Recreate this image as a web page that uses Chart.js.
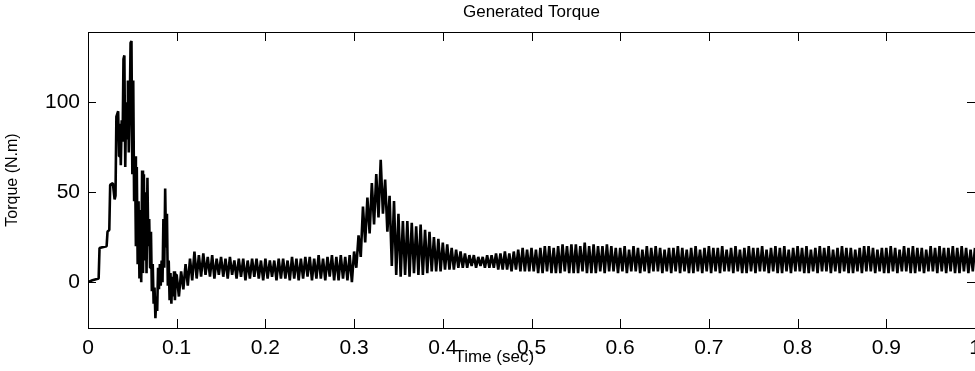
<!DOCTYPE html>
<html>
<head>
<meta charset="utf-8">
<script src="https://cdn.jsdelivr.net/npm/chart.js@4.4.0/dist/chart.umd.min.js"></script>
<style>
  html, body { margin: 0; padding: 0; overflow: hidden; background: #fff; }
  #wrap { width: 990px; height: 371px; position: relative; }
</style>
</head>
<body>
<div id="wrap"><canvas id="torqueChart"></canvas></div>
<script>
'use strict';

// start-up transient (time in s, torque)
let transientTime = [
  0, 0.005, 0.012, 0.013, 0.021, 0.022, 0.024, 0.025, 0.028, 0.030,
  0.031, 0.032, 0.034, 0.035, 0.036, 0.037, 0.038, 0.039, 0.040, 0.041,
  0.042, 0.043, 0.044, 0.045, 0.046, 0.047, 0.048, 0.049, 0.050, 0.051,
  0.052, 0.053, 0.054, 0.055, 0.056, 0.057, 0.058, 0.059, 0.060, 0.061,
  0.062, 0.063, 0.064, 0.065, 0.066, 0.067, 0.068, 0.069, 0.070, 0.071,
  0.072, 0.073, 0.074, 0.075, 0.076, 0.077, 0.078, 0.079, 0.080, 0.081,
  0.082, 0.083, 0.084, 0.085, 0.086, 0.087, 0.088, 0.089, 0.090, 0.091,
  0.092, 0.093, 0.094, 0.095, 0.096, 0.097, 0.098, 0.099
];
let transientTorque = [
  0, 1, 2, 19, 20, 28, 29, 54, 55, 46,
  48, 92, 95, 70, 88, 65, 90, 78, 124, 126,
  64, 100, 80, 112, 72, 95, 133, 134, 60, 112,
  45, 70, 20, 64, 10, 45, 2, 40, 0, 62,
  5, 60, 12, 50, 5, 58, 20, 35, 8, 28,
  -5, 10, -12, -3, -20, -8, -16, 8, -4, 10,
  -2, 12, 0, 35, 8, 52, 20, 38, -2, 12,
  -10, 5, -12, 3, -8, 6, -10, 4
];

// ripple after 0.1 s, sampled every 2.5 ms (peak, trough, peak, trough ...)
let bandStart = 0.1;
let bandStep = 0.0025;
let bandTorque = [
  4, -8, 6, -4, 10, -2, 13, 1,
  17, 2, 15, 3, 16, 4, 14, 3,
  15, 2, 13, 4, 14, 3, 13, 2,
  14, 4, 12, 2, 13, 3, 13, 1,
  12, 2, 13, 3, 13, 2, 12, 1,
  13, 2, 12, 3, 12, 1, 13, 2,
  13, 2, 12, 1, 14, 2, 13, 1,
  13, 2, 14, 3, 14, 1, 13, 2,
  15, 2, 13, 1, 14, 3, 15, 1,
  14, 1, 15, 2, 14, 1, 15, 0,
  17, 8, 26, 14, 42, 22, 47, 27,
  55, 32, 60, 36, 68, 38, 57, 28,
  48, 9, 45, 4, 38, 3, 34, 4,
  34, 3, 33, 5, 31, 4, 32, 4,
  29, 5, 28, 6, 25, 6, 24, 6,
  22, 7, 21, 7, 19, 7, 18, 8,
  17, 8, 16, 8, 15, 9, 15, 8,
  14, 9, 14, 8, 15, 8, 15, 8,
  16, 7, 16, 7, 17, 7, 16, 6,
  17, 7, 18, 6, 19, 6, 18, 6,
  19, 6, 18, 5, 19, 5, 20, 6,
  20, 5, 19, 5, 20, 5, 21, 6,
  20, 5, 21, 5, 21, 5, 20, 6,
  22, 5, 20, 5, 21, 5, 20, 6,
  20, 5, 21, 6, 20, 6, 19, 5,
  19, 6, 20, 5, 18, 6, 20, 6,
  19, 5, 18, 6, 20, 5, 19, 6,
  20, 6, 19, 5, 18, 6, 19, 5,
  19, 6, 20, 5, 19, 6, 18, 5,
  19, 5, 20, 6, 18, 5, 19, 6,
  20, 5, 19, 6, 19, 5, 20, 6,
  18, 6, 19, 5, 20, 6, 18, 5,
  19, 5, 20, 6, 19, 5, 19, 6,
  20, 6, 18, 5, 19, 6, 20, 5,
  19, 5, 20, 6, 18, 5, 19, 6,
  20, 6, 19, 5, 20, 5, 18, 6,
  19, 5, 20, 6, 19, 6, 20, 5,
  18, 6, 19, 5, 20, 6, 19, 5,
  19, 5, 18, 6, 19, 5, 20, 6,
  20, 6, 19, 5, 18, 6, 19, 5,
  19, 5, 20, 6, 19, 5, 18, 6,
  20, 6, 19, 5, 20, 5, 19, 6,
  19, 5, 18, 6, 20, 6, 19, 5,
  20, 6, 19, 5, 19, 6, 20, 5,
  19, 5, 20, 6, 19, 5, 18, 6,
  19
];

let xTickValues = [0, 0.1, 0.2, 0.3, 0.4, 0.5, 0.6, 0.7, 0.8, 0.9, 1];
let xTickLabels = ['0', '0.1', '0.2', '0.3', '0.4', '0.5', '0.6', '0.7', '0.8', '0.9', '1'];
let yTickValues = [0, 50, 100];
let yTickLabels = ['0', '50', '100'];

let points = [];
for (let i = 0; i < transientTime.length; i++) {
  points.push({ x: transientTime[i], y: transientTorque[i] });
}
for (let i = 0; i < bandTorque.length; i++) {
  points.push({ x: bandStart + i * bandStep, y: bandTorque[i] });
}

let fontFamily = '"Liberation Sans", Arial, Helvetica, sans-serif';

// matlab style box with inward ticks on every side, plus title and x label
let framePlugin = {
  id: 'frame',
  afterDraw(chart) {
    let ctx = chart.ctx;
    let a = chart.chartArea;
    let x = chart.scales.x;
    let y = chart.scales.y;
    ctx.save();
    ctx.strokeStyle = '#000';
    ctx.lineWidth = 1;
    ctx.strokeRect(a.left + 0.5, a.top + 0.5, a.right - a.left, a.bottom - a.top);
    ctx.beginPath();
    x.ticks.forEach(function (t) {
      let px = Math.round(x.getPixelForValue(t.value)) + 0.5;
      ctx.moveTo(px, a.bottom);
      ctx.lineTo(px, a.bottom - 9);
      ctx.moveTo(px, a.top);
      ctx.lineTo(px, a.top + 9);
    });
    y.ticks.forEach(function (t) {
      let py = Math.round(y.getPixelForValue(t.value)) + 0.5;
      ctx.moveTo(a.left, py);
      ctx.lineTo(a.left + 8, py);
      ctx.moveTo(a.right, py);
      ctx.lineTo(a.right - 8, py);
    });
    ctx.stroke();
    ctx.fillStyle = '#000';
    ctx.textAlign = 'center';
    ctx.textBaseline = 'middle';
    ctx.font = '17px ' + fontFamily;
    ctx.fillText('Generated Torque', (a.left + a.right) / 2, a.top - 20);
    ctx.fillText('Time (sec)', a.left + (a.right - a.left) * 0.458, a.bottom + 29);
    ctx.restore();
  }
};

let ctx = document.getElementById('torqueChart').getContext('2d');
let torqueChart = new Chart(ctx, {
  type: 'line',
  data: {
    datasets: [{
      label: 'Torque',
      data: points,
      borderColor: '#000',
      borderWidth: 2.6,
      borderJoinStyle: 'bevel',
      pointRadius: 0,
      tension: 0,
      fill: false
    }]
  },
  options: {
    responsive: true,
    maintainAspectRatio: false,
    animation: false,
    layout: { padding: { left: 0, right: 15, top: 32, bottom: 0 } },
    plugins: {
      legend: { display: false },
      tooltip: { enabled: false },
      title: { display: false }
    },
    scales: {
      x: {
        type: 'linear',
        min: 0,
        max: 1,
        afterBuildTicks: function (scale) {
          scale.ticks = xTickValues.map(v => ({ value: v }));
        },
        afterFit: function (scale) { scale.height = 43; },
        ticks: {
          color: '#000',
          padding: 8,
          maxRotation: 0,
          autoSkip: false,
          font: { family: fontFamily, size: 21 },
          callback: (v, i) => xTickLabels[i]
        },
        grid: { display: false, drawTicks: false },
        border: { display: false }
      },
      y: {
        min: -25.5,
        max: 139,
        afterBuildTicks: function (scale) {
          scale.ticks = yTickValues.map(v => ({ value: v }));
        },
        afterFit: function (scale) { scale.width = 88; },
        ticks: {
          color: '#000',
          padding: 8,
          font: { family: fontFamily, size: 21 },
          callback: (v, i) => yTickLabels[i]
        },
        grid: { display: false, drawTicks: false },
        border: { display: false },
        title: {
          display: true,
          text: 'Torque (N.m)',
          color: '#000',
          font: { family: fontFamily, size: 16 },
          padding: { top: 3, bottom: 0 }
        }
      }
    }
  },
  plugins: [framePlugin]
});
</script>
</body>
</html>
